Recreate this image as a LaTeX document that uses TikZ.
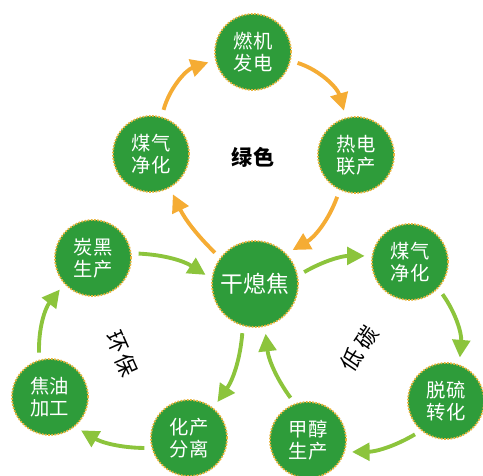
\documentclass[tikz,border=0pt]{standalone}
\usepackage{fontspec}
\newfontfamily\cjk{Noto Sans CJK SC}
\usepackage{xcolor}
\usetikzlibrary{arrows.meta}

\definecolor{stagegreen}{RGB}{46,156,58}
\definecolor{ringgold}{RGB}{232,180,60}
\definecolor{warmorange}{RGB}{245,172,52}
\definecolor{leafgreen}{RGB}{140,196,60}

\begin{document}
\begin{tikzpicture}[
	x=0.02cm, y=0.02cm,
	stage/.style={circle, fill=stagegreen, draw=ringgold, line width=1pt,
		dash pattern=on 1pt off 0.8pt, minimum size=1.52cm, inner sep=0pt,
		text=white, align=center, font=\cjk\fontsize{11}{12.5}\selectfont},
	hub/.style={stage, minimum size=1.72cm, font=\cjk\fontsize{13}{15}\selectfont},
	flow/.style={-{Triangle[length=10pt,width=10pt]}, line width=2.2pt,
		shorten <=4pt, shorten >=4pt},
	warm/.style={flow, draw=warmorange, color=warmorange},
	leaf/.style={flow, draw=leafgreen, color=leafgreen},
	theme/.style={font=\cjk\bfseries\fontsize{12}{14}\selectfont},
	glyph/.style={inner sep=0pt, font=\cjk\fontsize{12.5}{14}\selectfont}
	]
	\useasboundingbox (0,0) rectangle (483,-476);

	% stages
	\node[hub]   (coke)   at (255,-284) {干熄焦};
	\node[stage] (turb)   at (253,-52)  {燃机\\发电};
	\node[stage] (chp)    at (356,-155) {热电\\联产};
	\node[stage] (gasA)   at (151,-154) {煤气\\净化};
	\node[stage] (gasB)   at (410,-262) {煤气\\净化};
	\node[stage] (desulf) at (446,-401) {脱硫\\转化};
	\node[stage] (meth)   at (308,-440) {甲醇\\生产};
	\node[stage] (chem)   at (189,-438) {化产\\分离};
	\node[stage] (tar)    at (50,-397)  {焦油\\加工};
	\node[stage] (carbon) at (93,-258)  {炭黑\\生产};

	% themes
	\node[theme] (green) at (253,-157) {绿色};
	\node[glyph, rotate=-66] (ecoA) at (117,-342) {环};
	\node[glyph, rotate=-66] (ecoB) at (127,-365) {保};
	\node[glyph, rotate=56] (lowA) at (352,-360) {低};
	\node[glyph, rotate=56] (lowB) at (367,-338) {碳};

	% green cycle
	\draw[warm] (gasA.74) to[bend left=28] (turb.192);
	\draw[warm] (turb.-13) to[bend left=28] (chp.105);
	\draw[warm] (chp.-115) to[bend left=20] (coke.44);
	\draw[warm] (coke.143) to[bend left=10] (gasA.-61);

	% eco and low carbon cycles
	\draw[leaf] (carbon.7) to[bend left=15] (coke.173);
	\draw[leaf] (coke.11) to[bend left=15] (gasB.171);
	\draw[leaf] (gasB.-43) to[bend left=20] (desulf.70);
	\draw[leaf] (desulf.-130) to[bend left=15] (meth.-18);
	\draw[leaf] (meth.110) to[bend left=15] (coke.-77);
	\draw[leaf] (coke.-106) to[bend left=15] (chem.51);
	\draw[leaf] (chem.-165) to[bend left=15] (tar.-50);
	\draw[leaf] (tar.106) to[bend left=20] (carbon.-138);
\end{tikzpicture}
\end{document}
